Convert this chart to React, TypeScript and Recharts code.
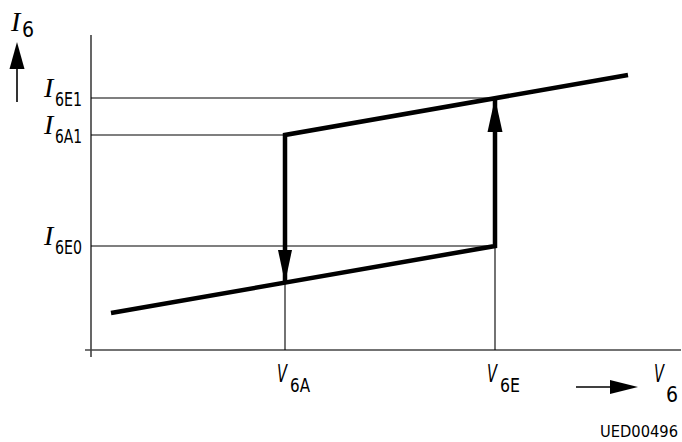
import React from 'react';
import { ComposedChart, Line, XAxis, YAxis, ReferenceLine, ReferenceDot, Customized } from 'recharts';

// Values (V6 horizontal units, I6 vertical units)
const vTicks = [194, 404];
const vTickLabels = ['6A', '6E'];
const iTicks = [104, 215, 252];
const iTickLabels = ['6E0', '6A1', '6E1'];

const lowerBranch = [
  { v: 20, i: 37 },
  { v: 404, i: 104 },
  { v: 404, i: 252 },
];
const upperBranch = [
  { v: 537, i: 275 },
  { v: 194, i: 215 },
  { v: 194, i: 67 },
];

const V6A = 194;
const V6E = 404;
const I6E0 = 104;
const I6A1 = 215;
const I6E1 = 252;
const I_LOW_AT_V6A = 67;

const V_MAX = 590;
const I_MAX = 315;

const SERIF = "'Liberation Serif', 'DejaVu Serif', serif";
const SANS = "'Liberation Sans Narrow', 'DejaVu Sans Condensed', 'Liberation Sans', sans-serif";

const Arrowhead = (props: any) => {
  const { cx, cy, dir, len, w } = props;
  if (cx == null || cy == null) return null;
  let pts = '';
  if (dir === 'down') pts = `${cx},${cy} ${cx - w / 2},${cy - len} ${cx + w / 2},${cy - len}`;
  if (dir === 'up') pts = `${cx},${cy} ${cx - w / 2},${cy + len} ${cx + w / 2},${cy + len}`;
  if (dir === 'right') pts = `${cx},${cy} ${cx - len},${cy - w / 2} ${cx - len},${cy + w / 2}`;
  return <polygon points={pts} fill="#000" stroke="none" />;
};

const YTick = (props: any) => {
  const { y, payload } = props;
  const idx = iTicks.indexOf(payload.value);
  const sub = iTickLabels[idx] ?? '';
  return (
    <g>
      <text x={44} y={y - 1} fontFamily={SERIF} fontStyle="italic" fontSize={28} fill="#000">I</text>
      <text x={55} y={y + 7.5} fontFamily={SANS} fontSize={19} fill="#000" textLength={27} lengthAdjust="spacingAndGlyphs">{sub}</text>
    </g>
  );
};

const XTick = (props: any) => {
  const { x, y, payload } = props;
  const idx = vTicks.indexOf(payload.value);
  const sub = vTickLabels[idx] ?? '';
  return (
    <g>
      <text x={x - 8} y={y + 32} fontFamily={SANS} fontStyle="italic" fontSize={24} fill="#000" textLength={10} lengthAdjust="spacingAndGlyphs">V</text>
      <text x={x + 5} y={y + 42} fontFamily={SANS} fontSize={19} fill="#000" textLength={20} lengthAdjust="spacingAndGlyphs">{sub}</text>
    </g>
  );
};

const Extras = () => (
  <g>
    <text x={11} y={31} fontFamily={SERIF} fontStyle="italic" fontSize={28} fill="#000">I</text>
    <text x={22} y={37} fontFamily={SANS} fontSize={21} fill="#000">6</text>
    <text x={654} y={382} fontFamily={SANS} fontStyle="italic" fontSize={24} fill="#000" textLength={10} lengthAdjust="spacingAndGlyphs">V</text>
    <text x={666} y={402} fontFamily={SANS} fontSize={21} fill="#000">6</text>
    <text x={600} y={437} fontFamily={SANS} fontSize={15} fill="#000" textLength={78} lengthAdjust="spacingAndGlyphs">UED00496</text>
  </g>
);

export default function App() {
  return (
    <div style={{ position: 'absolute', left: 0, top: 0, width: 682, height: 442, background: '#fff' }}>
      <ComposedChart width={682} height={442} margin={{ top: 35, right: 1, left: 0, bottom: 0 }}>
        <XAxis
          dataKey="v"
          type="number"
          domain={[0, V_MAX]}
          ticks={vTicks}
          interval={0}
          height={92}
          axisLine={false}
          tickLine={false}
          tickSize={0}
          tickMargin={0}
          tick={<XTick />}
        />
        <YAxis
          dataKey="i"
          type="number"
          domain={[0, I_MAX]}
          ticks={iTicks}
          interval={0}
          width={91}
          axisLine={false}
          tickLine={false}
          tickSize={0}
          tickMargin={0}
          tick={<YTick />}
        />
        {/* axes */}
        <ReferenceLine segment={[{ x: 0, y: -7 }, { x: 0, y: I_MAX }]} stroke="#000" strokeWidth={1.2} ifOverflow="visible" />
        <ReferenceLine segment={[{ x: -6, y: 0 }, { x: V_MAX, y: 0 }]} stroke="#444" strokeWidth={1.6} ifOverflow="visible" />
        {/* thin guide lines */}
        <ReferenceLine segment={[{ x: 0, y: I6E1 }, { x: V6E, y: I6E1 }]} stroke="#000" strokeWidth={1.1} ifOverflow="visible" />
        <ReferenceLine segment={[{ x: 0, y: I6A1 }, { x: V6A, y: I6A1 }]} stroke="#000" strokeWidth={1.1} ifOverflow="visible" />
        <ReferenceLine segment={[{ x: 0, y: I6E0 }, { x: V6E, y: I6E0 }]} stroke="#000" strokeWidth={1.1} ifOverflow="visible" />
        <ReferenceLine segment={[{ x: V6A, y: 0 }, { x: V6A, y: I_LOW_AT_V6A }]} stroke="#000" strokeWidth={1.1} ifOverflow="visible" />
        <ReferenceLine segment={[{ x: V6E, y: 0 }, { x: V6E, y: I6E0 }]} stroke="#000" strokeWidth={1.1} ifOverflow="visible" />
        {/* axis direction arrows */}
        <ReferenceLine segment={[{ x: -74, y: 248 }, { x: -74, y: 290 }]} stroke="#000" strokeWidth={1.6} ifOverflow="visible" />
        <ReferenceDot x={-74} y={308} r={1} ifOverflow="visible" shape={(p: any) => <Arrowhead {...p} dir="up" len={27} w={15} />} />
        <ReferenceLine segment={[{ x: 485, y: -37 }, { x: 525, y: -37 }]} stroke="#000" strokeWidth={1.6} ifOverflow="visible" />
        <ReferenceDot x={547} y={-37} r={1} ifOverflow="visible" shape={(p: any) => <Arrowhead {...p} dir="right" len={28} w={14} />} />
        {/* hysteresis branches */}
        <Line data={lowerBranch} dataKey="i" type="linear" stroke="#000" strokeWidth={4.5} dot={false} isAnimationActive={false} strokeLinejoin="miter" strokeLinecap="butt" />
        <Line data={upperBranch} dataKey="i" type="linear" stroke="#000" strokeWidth={4.5} dot={false} isAnimationActive={false} strokeLinejoin="miter" strokeLinecap="butt" />
        <ReferenceDot x={V6A} y={I_LOW_AT_V6A} r={1} ifOverflow="visible" shape={(p: any) => <Arrowhead {...p} dir="down" len={33} w={14} />} />
        <ReferenceDot x={V6E} y={I6E1} r={1} ifOverflow="visible" shape={(p: any) => <Arrowhead {...p} dir="up" len={34} w={15} />} />
        <Customized component={Extras} />
      </ComposedChart>
    </div>
  );
}
